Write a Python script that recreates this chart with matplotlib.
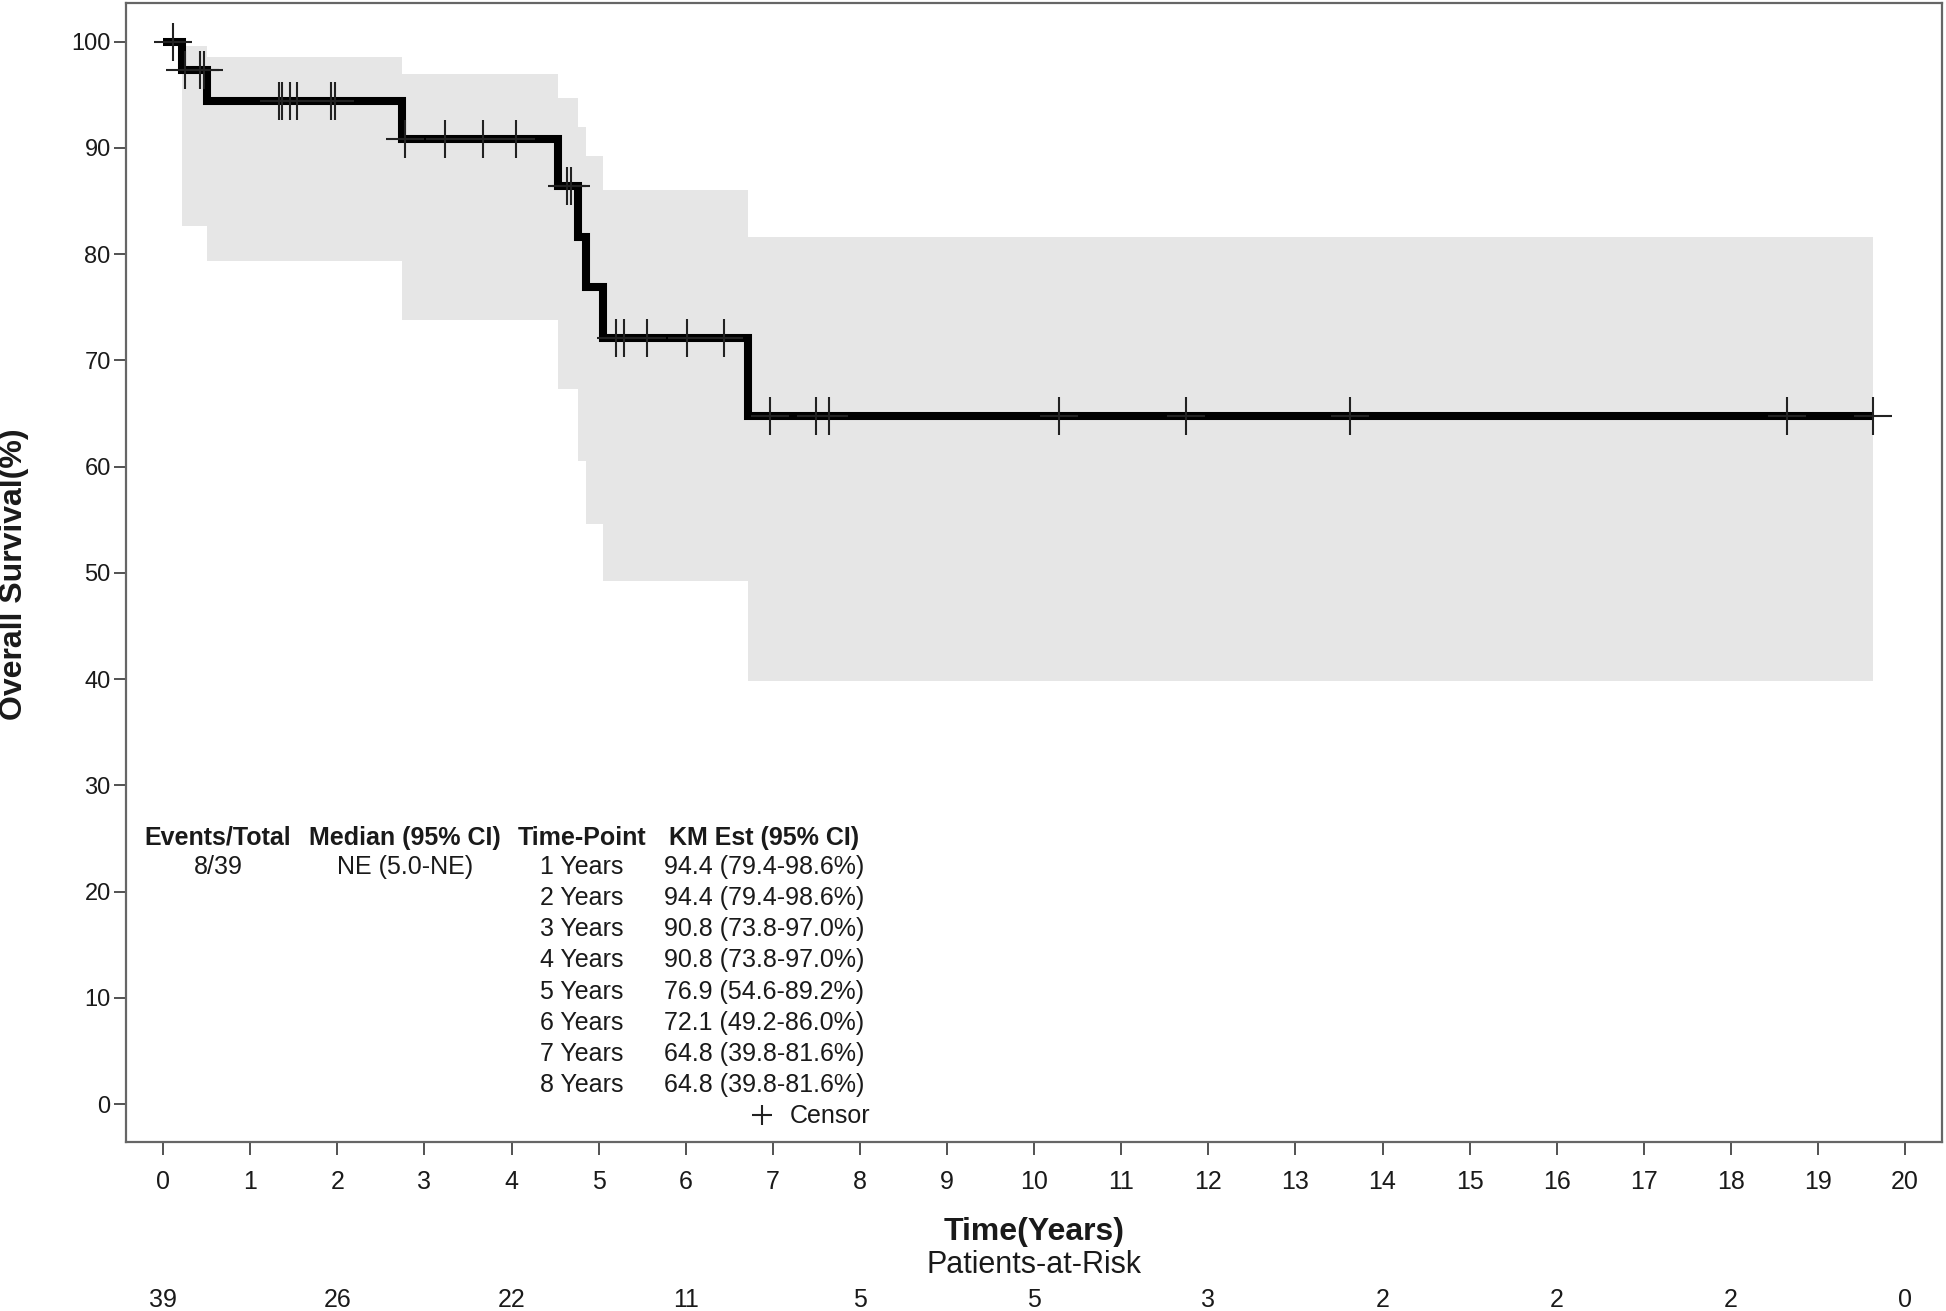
import numpy as np
import matplotlib
matplotlib.use("Agg")
import matplotlib.pyplot as plt
import matplotlib.transforms as mtransforms
from matplotlib.lines import Line2D

plt.rcParams['font.family'] = ['Liberation Sans', 'DejaVu Sans']

# Kaplan-Meier steps: time of each step (years) and survival after it (%)
step_times = [0.0, 0.22, 0.50, 2.745, 4.53, 4.76, 4.86, 5.05, 6.71]
step_surv = [100.0, 97.3, 94.4, 90.8, 86.4, 81.6, 76.9, 72.1, 64.8]
last_time = 19.63

# 95% confidence band, from the first event on
ci_times = [0.22, 0.50, 2.745, 4.53, 4.76, 4.86, 5.05, 6.71]
ci_lower = [82.7, 79.4, 73.8, 67.3, 60.5, 54.6, 49.2, 39.8]
ci_upper = [99.6, 98.6, 97.0, 94.7, 92.0, 89.2, 86.0, 81.6]

# censored observations (years)
censor_times = [0.11, 0.25, 0.42, 0.467,
                1.33, 1.36, 1.46, 1.54, 1.93, 1.97,
                2.78, 3.24, 3.67, 4.05,
                4.64, 4.68,
                5.20, 5.29, 5.55, 6.01, 6.44,
                6.97, 7.49, 7.65, 10.28, 11.74, 13.63, 18.64, 19.63]

# patients at risk
risk_times = [0, 2, 4, 6, 8, 10, 12, 14, 16, 18, 20]
risk_counts = [39, 26, 22, 11, 5, 5, 3, 2, 2, 2, 0]

# summary table
events_total = '8/39'
median_ci = 'NE (5.0-NE)'
time_points = ['1 Years', '2 Years', '3 Years', '4 Years',
               '5 Years', '6 Years', '7 Years', '8 Years']
km_est = ['94.4 (79.4-98.6%)', '94.4 (79.4-98.6%)', '90.8 (73.8-97.0%)',
          '90.8 (73.8-97.0%)', '76.9 (54.6-89.2%)', '72.1 (49.2-86.0%)',
          '64.8 (39.8-81.6%)', '64.8 (39.8-81.6%)']

txt = '#1a1a1a'

fig = plt.figure(figsize=(19.46, 13.11), dpi=100)
ax = fig.add_axes([0.0647, 0.1291, 0.9331, 0.8686])

# CI band
band_t = ci_times + [last_time]
ax.fill_between(band_t, ci_lower + [ci_lower[-1]], ci_upper + [ci_upper[-1]],
                step='post', color='#e6e6e6', lw=0, zorder=1)

# KM curve
km_t = step_times + [last_time]
km_s = step_surv + [step_surv[-1]]
ax.step(km_t, km_s, where='post', color='black', lw=5.8,
        solid_joinstyle='miter', solid_capstyle='butt', zorder=3)

# censor marks sit on the curve
idx = np.searchsorted(step_times, censor_times, side='right') - 1
censor_surv = np.array(step_surv)[idx]
ax.plot(censor_times, censor_surv, ls='none', marker='+', ms=27.5,
        mew=1.5, color='#222222', zorder=4)

ax.set_xlim(-0.428, 20.42)
ax.set_ylim(-3.53, 103.64)
ax.set_xticks(range(0, 21))
ax.set_yticks(range(0, 101, 10))
ax.tick_params(axis='x', length=9, width=1.3, pad=11, labelsize=18,
               color='#444444', labelcolor=txt)
ax.tick_params(axis='y', length=9, width=1.3, pad=2, labelsize=17,
               color='#444444', labelcolor=txt)
for sp in ax.spines.values():
    sp.set_color('#666666')
    sp.set_linewidth(1.6)

ax.set_xlabel('Time(Years)', fontsize=23, fontweight='bold', color=txt)
ax.xaxis.label.set_va('center')
ax.xaxis.set_label_coords(0.5, -0.0793)
ax.set_ylabel('Overall Survival(%)', fontsize=23, fontweight='bold', color=txt)
ax.yaxis.label.set_va('center')
ax.yaxis.set_label_coords(-0.0617, 0.498)

# summary table inside the plot
row0 = 22.35
dy = 2.937
head_y = 25.1
col_x = [0.63, 2.78, 4.81, 6.90]
headers = ['Events/Total', 'Median (95% CI)', 'Time-Point', 'KM Est (95% CI)']
for cx, h in zip(col_x, headers):
    ax.text(cx, head_y, h, ha='center', va='center', fontsize=18,
            fontweight='bold', color=txt)
ax.text(col_x[0], row0, events_total, ha='center', va='center', fontsize=18, color=txt)
ax.text(col_x[1], row0, median_ci, ha='center', va='center', fontsize=18, color=txt)
for i, (tp, est) in enumerate(zip(time_points, km_est)):
    ax.text(col_x[2], row0 - i * dy, tp, ha='center', va='center', fontsize=18, color=txt)
    ax.text(col_x[3], row0 - i * dy, est, ha='center', va='center', fontsize=18, color=txt)

censor_handle = Line2D([], [], ls='none', marker='+', ms=14, mew=1.5, color='#222222')
ax.legend([censor_handle], ['Censor'], loc='center right',
          bbox_to_anchor=(8.12, row0 - 8 * dy), bbox_transform=ax.transData,
          frameon=False, fontsize=18, borderpad=0, borderaxespad=0,
          handlelength=1.0, handletextpad=0.6, labelcolor=txt)

# patients at risk below the axis
fig.text(0.5 * (0.0647 + 0.9978), 1 - 1265 / 1311, 'Patients-at-Risk',
         ha='center', va='center', fontsize=22, color=txt)
blend = mtransforms.blended_transform_factory(ax.transData, fig.transFigure)
for t, n in zip(risk_times, risk_counts):
    ax.text(t, 1 - 1300 / 1311, str(n), transform=blend, ha='center',
            va='center', fontsize=18, color=txt, clip_on=False)

fig.savefig('out.png', dpi=100)
